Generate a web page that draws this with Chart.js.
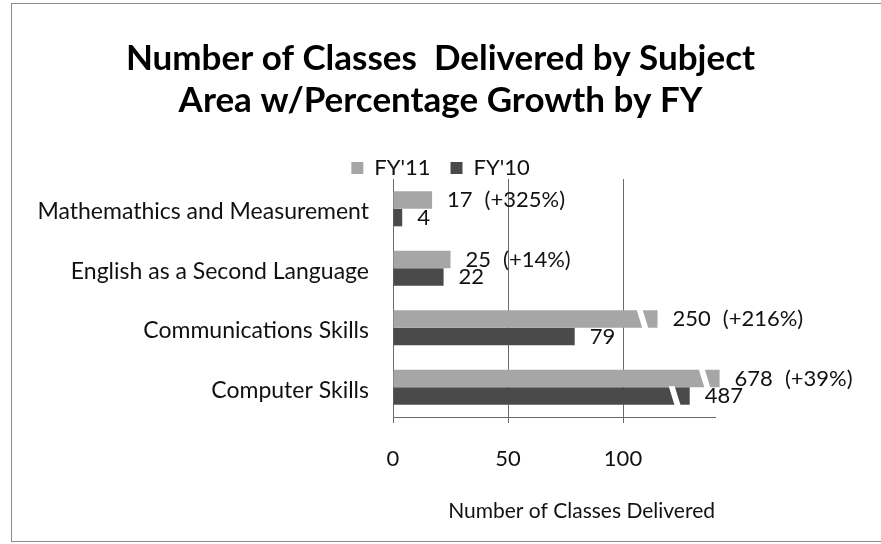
<!DOCTYPE html>
<html>
<head>
<meta charset="utf-8">
<script src="https://cdn.jsdelivr.net/npm/chart.js@4.4.0/dist/chart.umd.min.js"></script>
<style>
    html, body { margin: 0; padding: 0; background: #fff; }
    #wrap { position: relative; width: 881px; height: 544px; overflow: hidden; }
    #wrap canvas { position: absolute; left: 0; top: 0; }
    #frame {
        position: absolute; left: 11px; top: 3px; width: 880px; height: 537px;
        border: 1px solid #8a8a8a; border-right: none; pointer-events: none;
    }
</style>
</head>
<body>
<div id="wrap">
    <canvas id="mainChart" width="881" height="544"></canvas>
    <div id="frame"></div>
</div>
<script>
// Categorias (de arriba hacia abajo)
const categories = [
    "Mathemathics and Measurement",
    "English as a Second Language",
    "Communications Skills",
    "Computer Skills",
];

// Valores reales (se muestran en las etiquetas)
const fy11Values = [17, 25, 250, 678];
const fy10Values = [4, 22, 79, 487];
const growthLabels = ["(+325%)", "(+14%)", "(+216%)", "(+39%)"];

// Largo dibujado sobre el eje cortado (las barras grandes estan truncadas)
const fy11Drawn = [17, 25, 115, 142];
const fy10Drawn = [4, 22, 79, 129];

// Eje X
const xMax = 140;
const xStep = 50;

const colors = {
    fy11: "#a6a6a6",
    fy10: "#4a4a4a",
    grid: "#6a6a6a",
    text: "#111111",
};

Chart.defaults.font.family = "Lato, 'Open Sans', sans-serif";
Chart.defaults.color = colors.text;

// Etiquetas de valor, crecimiento y cortes de las barras truncadas
const barExtras = {
    id: "barExtras",
    afterLayout(chart) {
        // la leyenda va un poco mas pegada al grafico
        chart.legend.top += 10;
        chart.legend.bottom += 10;
    },
    afterDatasetsDraw(chart) {
        const ctx = chart.ctx;
        const actuals = [fy11Values, fy10Values];
        ctx.save();

        // cortes en diagonal
        actuals.forEach((actual, di) => {
            const meta = chart.getDatasetMeta(di);
            const shown = chart.data.datasets[di].data;
            meta.data.forEach((bar, i) => {
                if (actual[i] <= shown[i]) return;
                const top = bar.y - bar.height / 2 - 1;
                const bottom = bar.y + bar.height / 2 + 1;
                const xc = bar.x - 15;
                ctx.fillStyle = "#ffffff";
                ctx.beginPath();
                ctx.moveTo(xc - 6, top);
                ctx.lineTo(xc, top);
                ctx.lineTo(xc + 6, bottom);
                ctx.lineTo(xc, bottom);
                ctx.closePath();
                ctx.fill();
            });
        });

        // textos
        ctx.font = "22px Lato, 'Open Sans', sans-serif";
        ctx.fillStyle = colors.text;
        ctx.textBaseline = "middle";
        ctx.textAlign = "left";
        actuals.forEach((actual, di) => {
            const meta = chart.getDatasetMeta(di);
            meta.data.forEach((bar, i) => {
                const label = String(actual[i]);
                const lx = bar.x + 15;
                ctx.fillText(label, lx, bar.y);
                if (di === 0) {
                    const w = ctx.measureText(label).width;
                    ctx.fillText(growthLabels[i], lx + w + 12, bar.y);
                }
            });
        });
        ctx.restore();
    },
};

const ctx = document.getElementById("mainChart").getContext("2d");

new Chart(ctx, {
    type: "bar",
    data: {
        labels: categories,
        datasets: [
            {
                label: "FY'11",
                data: fy11Drawn,
                backgroundColor: colors.fy11,
                borderWidth: 0,
                barPercentage: 1,
                categoryPercentage: 0.59,
                clip: false,
            },
            {
                label: "FY'10",
                data: fy10Drawn,
                backgroundColor: colors.fy10,
                borderWidth: 0,
                barPercentage: 1,
                categoryPercentage: 0.59,
                clip: false,
            },
        ],
    },
    options: {
        indexAxis: "y",
        responsive: false,
        animation: false,
        layout: { padding: 0 },
        plugins: {
            title: {
                display: true,
                text: [
                    "Number of Classes  Delivered by Subject",
                    "Area w/Percentage Growth by FY",
                ],
                color: "#000",
                font: { size: 35, weight: "bold" },
                lineHeight: 1.1,
                padding: { top: 38, bottom: 5 },
            },
            legend: {
                display: true,
                position: "top",
                labels: {
                    boxWidth: 12,
                    boxHeight: 12,
                    padding: 20,
                    font: { size: 22 },
                    color: colors.text,
                },
            },
            tooltip: { enabled: false },
        },
        scales: {
            x: {
                min: 0,
                max: xMax,
                ticks: {
                    stepSize: xStep,
                    includeBounds: false,
                    padding: 23,
                    font: { size: 22 },
                    color: colors.text,
                },
                grid: {
                    color: colors.grid,
                    lineWidth: 1,
                    tickLength: 6,
                },
                border: { display: true, color: colors.grid },
                title: {
                    display: true,
                    text: "Number of Classes Delivered",
                    align: "end",
                    font: { size: 21 },
                    color: colors.text,
                    padding: { top: 20, bottom: 20 },
                },
                afterFit(scale) {
                    scale.height = 127;
                },
            },
            y: {
                grid: { display: false, drawTicks: false },
                border: { display: false },
                ticks: {
                    padding: 24,
                    labelOffset: 3,
                    font: { size: 23 },
                    color: colors.text,
                },
                afterFit(scale) {
                    scale.width = 393;
                },
            },
            // eje vacio a la derecha: deja espacio para las etiquetas
            yRight: {
                type: "linear",
                position: "right",
                grid: { display: false, drawTicks: false },
                border: { display: false },
                ticks: { display: false },
                afterFit(scale) {
                    scale.width = 166;
                },
            },
        },
    },
    plugins: [barExtras],
});
</script>
</body>
</html>
